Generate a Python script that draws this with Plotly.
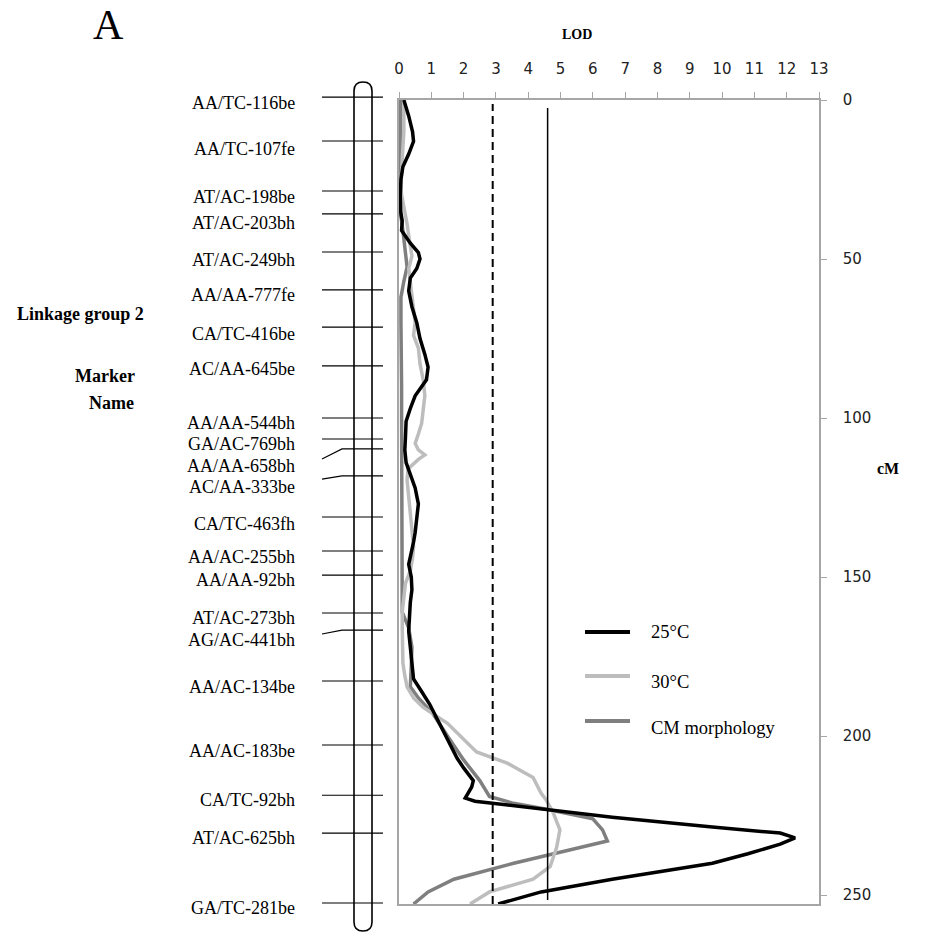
import plotly.graph_objects as go

W, H = 925, 933

# ---------------- data ----------------
cm_25 = [0, 5, 10, 13, 17, 21, 25, 30, 35, 38, 41, 45, 48, 50, 53, 56, 60, 65, 70, 75, 80, 84, 88, 93, 97,
         101, 106, 110, 114, 118, 122, 127, 132, 136, 139, 143, 146, 150, 154, 158, 162, 167, 172, 177, 182,
         186, 190, 194, 197, 200, 203, 207, 210, 214, 216, 218.5, 219.5, 220.5, 223, 225.5, 228.6, 230.5, 232,
         234, 237, 240, 245, 249, 252.8]
lod_25 = [0.15, 0.3, 0.42, 0.45, 0.3, 0.12, 0.06, 0.04, 0.05, 0.1, 0.08, 0.35, 0.6, 0.65, 0.55, 0.35, 0.3, 0.4,
          0.55, 0.65, 0.8, 0.9, 0.85, 0.5, 0.35, 0.22, 0.2, 0.18, 0.22, 0.35, 0.5, 0.6, 0.55, 0.5, 0.45, 0.35,
          0.3, 0.38, 0.4, 0.35, 0.32, 0.3, 0.35, 0.4, 0.45, 0.7, 0.95, 1.15, 1.3, 1.45, 1.6, 1.8, 2.0, 2.3, 2.25,
          2.1, 2.05, 2.35, 4.5, 6.6, 9.7, 11.8, 12.26, 11.8, 10.8, 9.7, 6.6, 4.4, 3.07]

cm_30 = [0, 5, 10, 15, 20, 25, 28, 32, 36, 39, 44, 49, 53, 57, 62, 66, 70, 74, 78, 83, 88, 93, 97, 101.7, 105,
         108, 110, 111.6, 113, 116, 119.5, 125, 130, 135, 140.5, 144, 148, 152, 156, 161, 166, 172, 177, 181,
         184.5, 188, 191, 196, 200, 205, 208.5, 213, 218, 220, 224, 229.5, 235, 241, 245, 249, 252.8]
lod_30 = [0.15, 0.15, 0.15, 0.12, 0.1, 0.08, 0.05, 0.12, 0.2, 0.25, 0.32, 0.4, 0.3, 0.35, 0.4, 0.45, 0.5, 0.45,
          0.6, 0.65, 0.75, 0.8, 0.75, 0.7, 0.6, 0.5, 0.6, 0.8, 0.6, 0.28, 0.25, 0.3, 0.35, 0.4, 0.45, 0.42, 0.35,
          0.2, 0.15, 0.1, 0.1, 0.1, 0.12, 0.18, 0.25, 0.45, 0.75, 1.5, 1.9, 2.4, 3.35, 4.15, 4.4, 4.55, 4.77,
          4.98, 4.88, 4.68, 4.15, 2.8, 2.2]

cm_cm = [0, 10, 20, 30, 36, 41, 47, 52.5, 57, 62, 70, 80, 90, 100, 110, 120, 130, 140, 150, 156, 161, 166, 172,
         178, 184.5, 188, 193, 200, 207.5, 214, 219, 221, 223, 226, 229.5, 233, 235, 240, 245, 249, 252.8]
lod_cm = [0.05, 0.05, 0.05, 0.05, 0.05, 0.12, 0.2, 0.25, 0.15, 0.06, 0.06, 0.08, 0.08, 0.08, 0.08, 0.08, 0.08,
          0.08, 0.1, 0.08, 0.1, 0.3, 0.4, 0.38, 0.35, 0.6, 1.05, 1.5, 2.0, 2.5, 2.8, 3.5, 4.57, 6.0, 6.3, 6.45,
          5.6, 3.55, 1.7, 0.9, 0.45]

series_names = ["25°C", "30°C", "CM morphology"]
series_colors = ["#000000", "#bdbdbd", "#7f7f7f"]

thresholds = [2.9, 4.6]          # dashed, solid
lod_ticks = list(range(0, 14))
cm_ticks = [0, 50, 100, 150, 200, 250]

marker_names = ["AA/TC-116be", "AA/TC-107fe", "AT/AC-198be", "AT/AC-203bh", "AT/AC-249bh", "AA/AA-777fe",
                "CA/TC-416be", "AC/AA-645be", "AA/AA-544bh", "GA/AC-769bh", "AA/AA-658bh", "AC/AA-333be",
                "CA/TC-463fh", "AA/AC-255bh", "AA/AA-92bh", "AT/AC-273bh", "AG/AC-441bh", "AA/AC-134be",
                "AA/AC-183be", "CA/TC-92bh", "AT/AC-625bh", "GA/TC-281be"]
marker_cm = [-0.9, 12.9, 28.6, 35.8, 47.8, 59.7, 71.4, 83.6, 100.0, 106.6, 109.7, 118.2, 131.1, 141.8, 149.4,
             161.3, 166.7, 182.7, 202.8, 218.6, 230.5, 252.5]
stub_cm = [-0.9, 12.9, 28.6, 35.8, 47.8, 59.7, 71.4, 83.6, 100.0, 106.6, 112.9, 119.2, 131.1, 141.8, 149.4,
           161.3, 167.9, 182.7, 202.8, 218.6, 230.5, 252.5]
label_cm = [0.9, 15.4, 30.5, 38.7, 50.3, 61.3, 73.6, 84.6, 101.6, 108.2, 115.1, 121.7, 133.3, 143.7, 150.9,
            162.9, 169.8, 184.6, 204.7, 220.1, 232.1, 254.1]

# ---------------- geometry helpers (layout only) ----------------
PLOT_L, PLOT_R, PLOT_T, PLOT_B = 399, 819, 100, 904
Y_MAX = 252.8
px_per_cm = (PLOT_B - PLOT_T) / Y_MAX


def X(px):
    return px / W


def Y(py):
    return 1 - py / H


SERIF = "Liberation Serif, Times New Roman, serif"
SANS = "DejaVu Sans, Verdana, sans-serif"

fig = go.Figure()

for cmv, lod, name, col in [(cm_cm, lod_cm, series_names[2], series_colors[2]),
                            (cm_30, lod_30, series_names[1], series_colors[1]),
                            (cm_25, lod_25, series_names[0], series_colors[0])]:
    fig.add_trace(go.Scatter(x=lod, y=cmv, mode="lines", name=name,
                             line=dict(color=col, width=3.5), showlegend=False,
                             xaxis="x", yaxis="y"))

# marker lines on the linkage map (left panel, same cM scale)
mx, my = [], []
for c, s in zip(marker_cm, stub_cm):
    mx += [322, 342, 383, None]
    my += [s, c, c, None]
fig.add_trace(go.Scatter(x=mx, y=my, mode="lines", line=dict(color="#000000", width=1.1),
                         showlegend=False, hoverinfo="skip", xaxis="x2", yaxis="y2"))

shapes = []
# threshold lines
shapes.append(dict(type="line", xref="x", yref="y domain", x0=thresholds[0], x1=thresholds[0], y0=0, y1=0.995,
                   line=dict(color="#000000", width=2, dash="8px,5px")))
shapes.append(dict(type="line", xref="x", yref="y domain", x0=thresholds[1], x1=thresholds[1], y0=0.005, y1=0.99,
                   line=dict(color="#000000", width=1.5)))

# chromosome outline (rounded bar)
x0c, x1c, topc, botc, r = 354, 372, 82, 931, 9
xc = (x0c + x1c) / 2
path = (f"M{X(x0c)},{Y(topc + r)} L{X(x0c)},{Y(botc - r)} "
        f"Q{X(x0c)},{Y(botc)} {X(xc)},{Y(botc)} Q{X(x1c)},{Y(botc)} {X(x1c)},{Y(botc - r)} "
        f"L{X(x1c)},{Y(topc + r)} Q{X(x1c)},{Y(topc)} {X(xc)},{Y(topc)} "
        f"Q{X(x0c)},{Y(topc)} {X(x0c)},{Y(topc + r)} Z")
shapes.append(dict(type="path", xref="paper", yref="paper", path=path,
                   line=dict(color="#000000", width=1.6), fillcolor="rgba(0,0,0,0)"))

# manual legend
leg_line_y = [632, 676, 721]
leg_text_y = [632, 682, 728]
for i in range(3):
    shapes.append(dict(type="line", xref="paper", yref="paper", x0=X(585), x1=X(630),
                       y0=Y(leg_line_y[i]), y1=Y(leg_line_y[i]),
                       line=dict(color=series_colors[i], width=4)))

annotations = []
for i in range(3):
    annotations.append(dict(text=series_names[i], xref="paper", yref="paper", x=X(649), y=Y(leg_text_y[i]),
                            xanchor="left", yanchor="middle", showarrow=False,
                            font=dict(family=SERIF, size=18.5, color="#000000")))

for name, lc in zip(marker_names, label_cm):
    annotations.append(dict(text=name, xref="x2", yref="y2", x=297, y=lc, xanchor="right", yanchor="middle",
                            showarrow=False, font=dict(family=SERIF, size=18, color="#000000")))

annotations += [
    dict(text="A", xref="paper", yref="paper", x=X(108), y=Y(25), xanchor="center", yanchor="middle",
         showarrow=False, borderpad=0, font=dict(family=SERIF, size=42, color="#000000")),
    dict(text="<b>Linkage group 2</b>", xref="paper", yref="paper", x=X(146), y=Y(314), xanchor="right",
         yanchor="middle", showarrow=False, font=dict(family=SERIF, size=18, color="#000000")),
    dict(text="<b>Marker</b>", xref="paper", yref="paper", x=X(137), y=Y(376), xanchor="right",
         yanchor="middle", showarrow=False, font=dict(family=SERIF, size=18, color="#000000")),
    dict(text="<b>Name</b>", xref="paper", yref="paper", x=X(136), y=Y(403), xanchor="right",
         yanchor="middle", showarrow=False, font=dict(family=SERIF, size=18, color="#000000")),
    dict(text="<b>LOD</b>", xref="paper", yref="paper", x=X(577), y=Y(35), xanchor="center",
         yanchor="middle", showarrow=False, font=dict(family=SERIF, size=14, color="#000000")),
    dict(text="<b>cM</b>", xref="paper", yref="paper", x=X(888), y=Y(468), xanchor="center",
         yanchor="middle", showarrow=False, font=dict(family=SERIF, size=16, color="#000000")),
]

axis_gray = "#a6a6a6"
fig.update_layout(
    width=W, height=H,
    margin=dict(l=0, r=0, t=0, b=0, pad=0, autoexpand=False),
    paper_bgcolor="white", plot_bgcolor="white",
    showlegend=False,
    xaxis=dict(domain=[X(PLOT_L), X(PLOT_R)], range=[0, 13], side="top", tickvals=lod_ticks,
               ticks="outside", ticklen=6, tickcolor=axis_gray, tickwidth=1.2,
               showline=True, linecolor=axis_gray, linewidth=1.5, mirror=True,
               showgrid=False, zeroline=False, anchor="y", automargin=False, ticklabelstandoff=12,
               tickfont=dict(family=SANS, size=15, color="#222222")),
    yaxis=dict(domain=[Y(PLOT_B), Y(PLOT_T)], range=[Y_MAX, 0], side="right", tickvals=cm_ticks,
               ticks="outside", ticklen=6, tickcolor=axis_gray, tickwidth=1.2,
               showline=True, linecolor=axis_gray, linewidth=1.5, mirror=True,
               showgrid=False, zeroline=False, anchor="x", ticklabelstandoff=13, automargin=False,
               tickfont=dict(family=SANS, size=15, color="#222222")),
    xaxis2=dict(domain=[0, X(PLOT_L)], range=[0, PLOT_L], visible=False, anchor="y2", fixedrange=True,
                automargin=False),
    yaxis2=dict(domain=[0, 1], range=[(H - PLOT_T) / px_per_cm, -PLOT_T / px_per_cm], visible=False,
                anchor="x2", fixedrange=True, automargin=False),
    shapes=shapes,
    annotations=annotations,
)

fig.write_html("out.html")
